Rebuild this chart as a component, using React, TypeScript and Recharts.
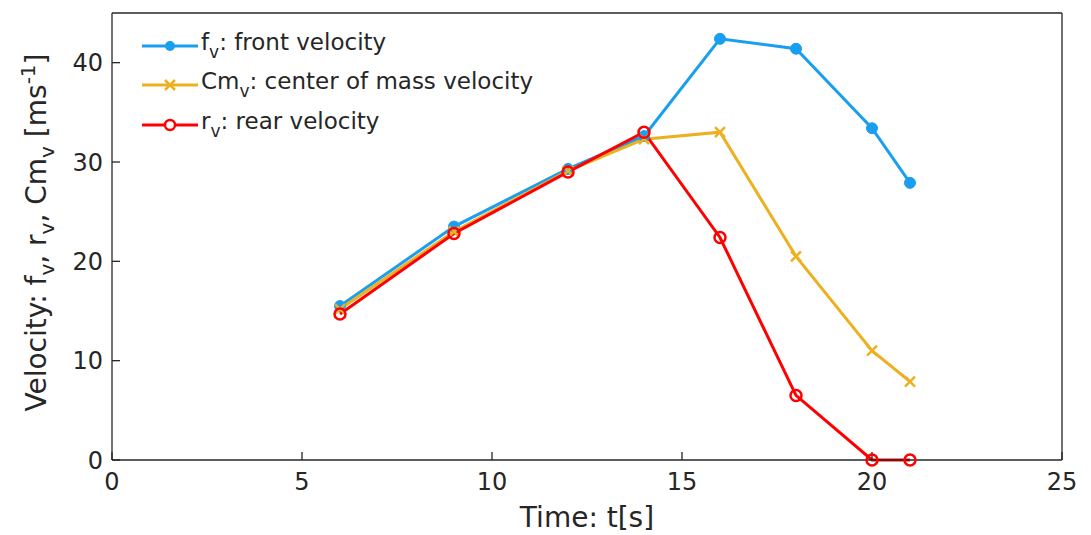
import React from 'react';
import { LineChart, Line, XAxis, YAxis, Legend } from 'recharts';

// Tiempos de muestreo (s) y velocidades (m/s)
const time = [6, 9, 12, 14, 16, 18, 20, 21];
const frontVel = [15.5, 23.5, 29.3, 32.6, 42.4, 41.4, 33.4, 27.9];
const cmVel = [15.2, 23.0, 29.1, 32.3, 33.0, 20.5, 11.0, 7.9];
const rearVel = [14.7, 22.8, 29.0, 33.0, 22.4, 6.5, 0, 0];

const xTicks = [0, 5, 10, 15, 20, 25];
const yTicks = [0, 10, 20, 30, 40];

const data = time.map((t, i) => ({ t, f: frontVel[i], cm: cmVel[i], r: rearVel[i] }));

const BLUE = '#1a9ff0';
const YELLOW = '#edb120';
const RED = '#ff0000';
const INK = '#262626';
const FONT = '"DejaVu Sans", sans-serif';

const FilledDot = (p: any) => <circle key={p.index} cx={p.cx} cy={p.cy} r={5.5} fill={BLUE} stroke={BLUE} />;
const CrossDot = (p: any) => (
    <path key={p.index} d={`M${p.cx - 5},${p.cy - 5}L${p.cx + 5},${p.cy + 5}M${p.cx - 5},${p.cy + 5}L${p.cx + 5},${p.cy - 5}`}
        stroke={YELLOW} strokeWidth={2.5} fill="none" />
);
const OpenDot = (p: any) => <circle key={p.index} cx={p.cx} cy={p.cy} r={5.5} fill="none" stroke={RED} strokeWidth={2.5} />;

const legendRows = [
    { color: BLUE, kind: 'dot', main: 'f', rest: ': front velocity' },
    { color: YELLOW, kind: 'cross', main: 'Cm', rest: ': center of mass velocity' },
    { color: RED, kind: 'open', main: 'r', rest: ': rear velocity' },
];

const LegendBox = () => (
    <div style={{ fontFamily: FONT, fontSize: 23, color: INK, textAlign: 'left', lineHeight: 1 }}>
        {legendRows.map((row) => (
            <div key={row.main} style={{ display: 'flex', alignItems: 'center', height: 39.5 }}>
                <svg width={58} height={20} style={{ marginRight: 2 }}>
                    <line x1={1} y1={10} x2={57} y2={10} stroke={row.color} strokeWidth={3} />
                    {row.kind === 'dot' && <circle cx={29} cy={10} r={5} fill={row.color} />}
                    {row.kind === 'cross' && <path d="M24,5L34,15M24,15L34,5" stroke={row.color} strokeWidth={2.5} />}
                    {row.kind === 'open' && <circle cx={29} cy={10} r={5} fill="white" stroke={row.color} strokeWidth={2.5} />}
                </svg>
                <span>
                    {row.main}
                    <sub style={{ fontSize: 17, verticalAlign: -8 }}>v</sub>
                    {row.rest}
                </span>
            </div>
        ))}
    </div>
);

const YLabel = (props: any) => {
    const vb = props.viewBox;
    const x = vb.x + 34;
    const y = vb.y + vb.height / 2 - 4;
    return (
        <text x={x} y={y} transform={`rotate(-90, ${x}, ${y})`} textAnchor="middle" fontFamily={FONT} fontSize={28} fill={INK}>
            Velocity: f<tspan fontSize={20} dy={8}>v</tspan>
            <tspan dy={-8}>, r</tspan><tspan fontSize={20} dy={8}>v</tspan>
            <tspan dy={-8}>, Cm</tspan><tspan fontSize={20} dy={8}>v</tspan>
            <tspan dy={-8}> [ms</tspan><tspan fontSize={20} dy={-11}>-1</tspan>
            <tspan dy={11}>]</tspan>
        </text>
    );
};

const XLabel = (props: any) => {
    const vb = props.viewBox;
    return (
        <text x={vb.x + vb.width / 2} y={vb.y + 67} textAnchor="middle" fontFamily={FONT} fontSize={28} fill={INK}>
            Time: t[s]
        </text>
    );
};

const tickStyle = { fontFamily: FONT, fontSize: 24, fill: INK };
const axisLine = { stroke: INK, strokeWidth: 1.3 };

export default function App() {
    return (
        <div style={{ position: 'absolute', left: 0, top: 0, background: 'white' }}>
            <LineChart width={1091} height={535} data={data} margin={{ top: 12, right: 28, bottom: 0, left: 12 }}>
                <XAxis dataKey="t" type="number" domain={[0, 25]} ticks={xTicks} height={75}
                    tick={tickStyle} tickSize={-8} tickMargin={21} axisLine={axisLine} tickLine={axisLine}
                    label={<XLabel />} />
                <XAxis xAxisId="top" orientation="top" type="number" domain={[0, 25]} ticks={xTicks} height={1}
                    tick={false} tickSize={-8} axisLine={axisLine} tickLine={axisLine} />
                <YAxis type="number" domain={[0, 45]} ticks={yTicks} width={100}
                    tick={tickStyle} tickSize={-8} tickMargin={17} axisLine={axisLine} tickLine={axisLine}
                    label={<YLabel />} />
                <YAxis yAxisId="right" orientation="right" type="number" domain={[0, 45]} ticks={yTicks} width={1}
                    tick={false} tickSize={-8} axisLine={axisLine} tickLine={axisLine} />
                <Legend content={<LegendBox />} layout="vertical" align="center" verticalAlign="middle"
                    wrapperStyle={{ top: 26, left: 141, width: 'auto' }} />
                <Line dataKey="f" stroke={BLUE} strokeWidth={3} dot={FilledDot} activeDot={false} isAnimationActive={false} />
                <Line dataKey="cm" stroke={YELLOW} strokeWidth={3} dot={CrossDot} activeDot={false} isAnimationActive={false} />
                <Line dataKey="r" stroke={RED} strokeWidth={3} dot={OpenDot} activeDot={false} isAnimationActive={false} />
            </LineChart>
        </div>
    );
}
